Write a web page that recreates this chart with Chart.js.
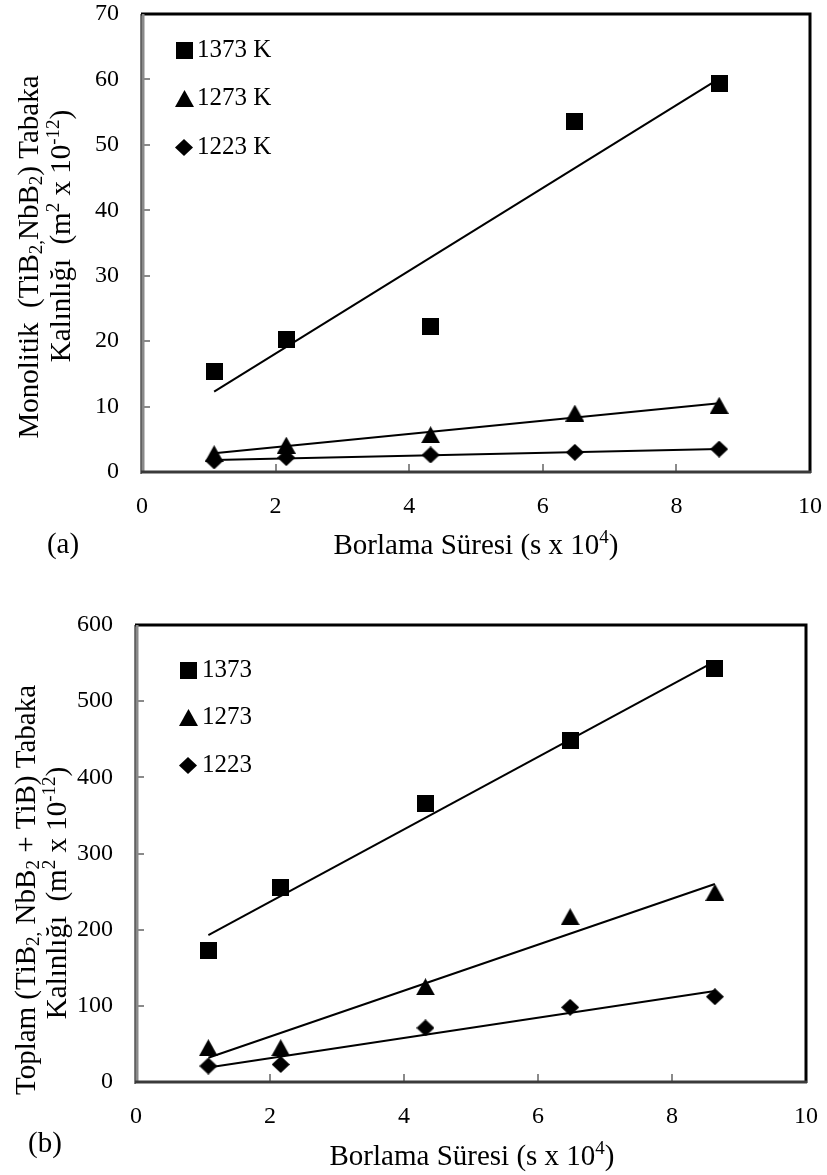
<!DOCTYPE html>
<html>
<head>
<meta charset="utf-8">
<script src="https://cdn.jsdelivr.net/npm/chart.js@4.4.1/dist/chart.umd.min.js"></script>
<style>
  html, body { margin: 0; padding: 0; background: #fff; }
  #wrap { position: relative; width: 827px; height: 1175px; overflow: hidden; }
  #wrap canvas { position: absolute; left: 0; }
</style>
</head>
<body>
<div id="wrap">
  <canvas id="chartA" width="827" height="590" style="top:0px"></canvas>
  <canvas id="chartB" width="827" height="585" style="top:590px"></canvas>
</div>
<script>
// Boriding time (s x 10^4): 3, 6, 12, 18 and 24 h
const boridingTime = [1.08, 2.16, 4.32, 6.48, 8.64];

// (a) monolithic (TiB2, NbB2) layer thickness, m^2 x 10^-12
const monolithic1373 = [15.3, 20.3, 22.2, 53.6, 59.4];
const monolithic1273 = [2.8, 4.1, 5.7, 9.0, 10.2];
const monolithic1223 = [1.7, 2.2, 2.6, 3.0, 3.5];

// (b) total (TiB2, NbB2 + TiB) layer thickness, m^2 x 10^-12
const total1373 = [173, 255, 365, 449, 543];
const total1273 = [45, 45, 125, 217, 249];
const total1223 = [21, 23, 71, 98, 112];

// Axis ticks
const timeTicks = [0, 2, 4, 6, 8, 10];
const monolithicTicks = [0, 10, 20, 30, 40, 50, 60, 70];
const totalTicks = [0, 100, 200, 300, 400, 500, 600];

// Series names
const seriesNamesA = ['1373 K', '1273 K', '1223 K'];
const seriesNamesB = ['1373', '1273', '1223'];

// Rich-text titles: [text, 'sub' | 'sup' | undefined]
const xTitle = [['Borlama Süresi (s x 10'], ['4', 'sup'], [')']];
const yTitleA1 = [['Monolitik  (TiB'], ['2,', 'sub'], ['NbB'], ['2', 'sub'], [') Tabaka']];
const yTitleA2 = [['Kalınlığı  (m'], ['2', 'sup'], [' x 10'], ['-12', 'sup'], [')']];
const yTitleB1 = [['Toplam (TiB'], ['2,', 'sub'], [' NbB'], ['2', 'sub'], [' + TiB) Tabaka']];
const yTitleB2 = [['Kalınlığı  (m'], ['2', 'sup'], [' x 10'], ['-12', 'sup'], [')']];

const FONT = '"Liberation Serif", "Times New Roman", serif';

// ---- marker shapes (black, centred in their bounding box) ----
function markerCanvas(kind) {
  const c = document.createElement('canvas');
  let w = 17, h = 17;
  if (kind === 'triangle') { w = 19; h = 17; }
  if (kind === 'diamond') { w = 18; h = 17; }
  c.width = w; c.height = h;
  const g = c.getContext('2d');
  g.fillStyle = '#000';
  g.beginPath();
  if (kind === 'square') {
    g.rect(0, 0, w, h);
  } else if (kind === 'triangle') {
    g.moveTo(w / 2, 0); g.lineTo(w, h); g.lineTo(0, h);
  } else {
    g.moveTo(w / 2, 0); g.lineTo(w, h / 2); g.lineTo(w / 2, h); g.lineTo(0, h / 2);
  }
  g.closePath();
  g.fill();
  return c;
}
const markers = [markerCanvas('square'), markerCanvas('triangle'), markerCanvas('diamond')];

// least-squares trend line over the measured range
function trendLine(xs, ys) {
  const n = xs.length;
  const mx = xs.reduce((a, b) => a + b, 0) / n;
  const my = ys.reduce((a, b) => a + b, 0) / n;
  let sxy = 0, sxx = 0;
  for (let i = 0; i < n; i++) { sxy += (xs[i] - mx) * (ys[i] - my); sxx += (xs[i] - mx) * (xs[i] - mx); }
  const slope = sxy / sxx, icpt = my - slope * mx;
  return [xs[0], xs[n - 1]].map(x => ({ x: x, y: icpt + slope * x }));
}

function drawRich(ctx, segs, cx, cy, size, rot) {
  ctx.save();
  ctx.translate(cx, cy);
  if (rot) ctx.rotate(rot);
  const small = Math.round(size * 0.64);
  const widths = [];
  let total = 0;
  segs.forEach(s => {
    ctx.font = (s[1] ? small : size) + 'px ' + FONT;
    const w = ctx.measureText(s[0]).width;
    widths.push(w); total += w;
  });
  let x = -total / 2;
  const base = size * 0.33;
  ctx.fillStyle = '#000';
  ctx.textAlign = 'left';
  ctx.textBaseline = 'alphabetic';
  segs.forEach((s, i) => {
    ctx.font = (s[1] ? small : size) + 'px ' + FONT;
    let dy = base;
    if (s[1] === 'sub') dy += size * 0.15;
    if (s[1] === 'sup') dy -= size * 0.36;
    ctx.fillText(s[0], x, dy);
    x += widths[i];
  });
  ctx.restore();
}

// frame, inward tick marks, titles and legend
const decorPlugin = {
  id: 'decor',
  beforeDatasetsDraw(chart, args, opts) {
    const { ctx, chartArea: a } = chart;
    const xs = chart.scales.x, ys = chart.scales.y;
    ctx.save();
    // inward tick marks
    ctx.strokeStyle = '#8a8a8a';
    ctx.lineWidth = 2;
    ctx.beginPath();
    xs.ticks.forEach(t => {
      if (t.value > xs.min && t.value < xs.max) {
        const px = Math.round(xs.getPixelForValue(t.value));
        ctx.moveTo(px, a.bottom); ctx.lineTo(px, a.bottom - 8);
      }
    });
    ys.ticks.forEach(t => {
      if (t.value > ys.min && t.value < ys.max) {
        const py = Math.round(ys.getPixelForValue(t.value));
        ctx.moveTo(a.left, py); ctx.lineTo(a.left + 8, py);
      }
    });
    ctx.stroke();
    // top and right border
    ctx.strokeStyle = '#000';
    ctx.lineWidth = 3;
    ctx.beginPath();
    ctx.moveTo(a.left - 1, a.top); ctx.lineTo(a.right, a.top); ctx.lineTo(a.right, a.bottom + 1);
    ctx.stroke();
    // value axis (left) and category axis (bottom)
    ctx.strokeStyle = '#8a8a8a';
    ctx.lineWidth = 3;
    ctx.beginPath();
    ctx.moveTo(a.left + 1, a.top); ctx.lineTo(a.left + 1, a.bottom);
    ctx.stroke();
    ctx.strokeStyle = '#000';
    ctx.lineWidth = 1;
    ctx.beginPath();
    ctx.moveTo(a.left - 1, a.top); ctx.lineTo(a.left - 1, a.bottom + 2);
    ctx.stroke();
    ctx.strokeStyle = '#3a3a3a';
    ctx.lineWidth = 3;
    ctx.beginPath();
    ctx.moveTo(a.left - 1, a.bottom); ctx.lineTo(a.right + 1, a.bottom);
    ctx.stroke();
    ctx.restore();
  },
  afterDraw(chart, args, opts) {
    const ctx = chart.ctx;
    // axis titles
    drawRich(ctx, opts.xTitle, opts.xTitlePos[0], opts.xTitlePos[1], 29, 0);
    opts.yTitles.forEach((segs, i) => {
      const p = opts.yTitlePos[i];
      drawRich(ctx, segs, p[0], p[1], 29, -Math.PI / 2);
    });
    // panel tag
    ctx.save();
    ctx.fillStyle = '#000';
    ctx.font = '29px ' + FONT;
    ctx.textAlign = 'center';
    ctx.textBaseline = 'middle';
    ctx.fillText(opts.tag, opts.tagPos[0], opts.tagPos[1]);
    // legend inside the plot area
    ctx.font = '25px ' + FONT;
    ctx.textAlign = 'left';
    const series = chart.data.datasets.filter(d => d.isSeries);
    series.forEach((d, i) => {
      const y = opts.legendPos[1] + i * opts.legendStep;
      const img = d.pointStyle;
      ctx.drawImage(img, Math.round(opts.legendPos[0] - img.width / 2), Math.round(y - img.height / 2));
      ctx.fillText(d.label, opts.legendPos[2], y);
    });
    ctx.restore();
  }
};

function makeChart(id, cfg) {
  const canvas = document.getElementById(id);
  const W = canvas.width, H = canvas.height;
  const datasets = [];
  cfg.series.forEach((vals, i) => {
    datasets.push({
      type: 'scatter',
      isSeries: true,
      label: cfg.names[i],
      data: boridingTime.map((x, k) => ({ x: x, y: vals[k] })),
      pointStyle: markers[i],
      pointRadius: 9,
      pointHoverRadius: 9,
      showLine: false,
      backgroundColor: '#000',
      borderColor: '#000',
      order: 1
    });
  });
  cfg.series.forEach(vals => {
    datasets.push({
      type: 'line',
      label: '',
      data: trendLine(boridingTime, vals),
      borderColor: '#000',
      borderWidth: 2,
      pointRadius: 0,
      fill: false,
      tension: 0,
      order: 2
    });
  });
  return new Chart(canvas, {
    type: 'scatter',
    data: { datasets: datasets },
    options: {
      responsive: false,
      animation: false,
      devicePixelRatio: 1,
      layout: { padding: { top: cfg.area.top, right: W - cfg.area.right, left: 0, bottom: 0 } },
      plugins: {
        legend: { display: false },
        tooltip: { enabled: false },
        decor: cfg.decor
      },
      scales: {
        x: {
          type: 'linear',
          min: 0, max: 10,
          afterBuildTicks: s => { s.ticks = timeTicks.map(v => ({ value: v })); },
          afterFit: s => {
            s.height = H - cfg.area.bottom;
            s.paddingLeft = 0; s.paddingRight = 0;
          },
          grid: { display: false, drawTicks: false },
          border: { display: false },
          ticks: { color: '#000', font: { family: FONT, size: 24 }, padding: 20, maxRotation: 0 }
        },
        y: {
          type: 'linear',
          min: 0, max: cfg.yTicks[cfg.yTicks.length - 1],
          afterBuildTicks: s => { s.ticks = cfg.yTicks.map(v => ({ value: v })); },
          afterFit: s => {
            s.width = cfg.area.left;
            s.paddingTop = 0; s.paddingBottom = 0;
          },
          grid: { display: false, drawTicks: false },
          border: { display: false },
          ticks: { color: '#000', font: { family: FONT, size: 24 }, padding: 23 }
        }
      }
    },
    plugins: [decorPlugin]
  });
}

makeChart('chartA', {
  area: { left: 142, top: 14, right: 810, bottom: 472 },
  series: [monolithic1373, monolithic1273, monolithic1223],
  names: seriesNamesA,
  yTicks: monolithicTicks,
  decor: {
    xTitle: xTitle, xTitlePos: [476, 544],
    yTitles: [yTitleA1, yTitleA2], yTitlePos: [[28, 257], [60, 236]],
    tag: '(a)', tagPos: [63, 545],
    legendPos: [184, 50, 197], legendStep: 48.5
  }
});

makeChart('chartB', {
  area: { left: 136, top: 35, right: 806, bottom: 492 },
  series: [total1373, total1273, total1223],
  names: seriesNamesB,
  yTicks: totalTicks,
  decor: {
    xTitle: xTitle, xTitlePos: [472, 565],
    yTitles: [yTitleB1, yTitleB2], yTitlePos: [[25, 300], [56, 303]],
    tag: '(b)', tagPos: [45, 554],
    legendPos: [188, 80, 202], legendStep: 47.5
  }
});
</script>
</body>
</html>
